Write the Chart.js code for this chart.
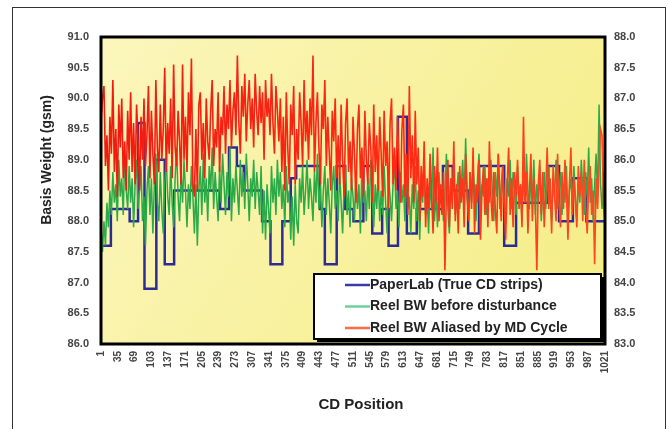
<!DOCTYPE html>
<html>
<head>
<meta charset="utf-8">
<script src="https://cdn.jsdelivr.net/npm/chart.js@4.4.1/dist/chart.umd.min.js"></script>
<style>
  html, body { margin: 0; padding: 0; background: #fff; }
  #wrap { width: 669px; height: 429px; }
</style>
</head>
<body>
<div id="wrap"><canvas id="bwChart" width="669" height="429"></canvas></div>
<script>
// CD positions shown on the x axis
const xTicks = [1, 35, 69, 103, 137, 171, 205, 239, 273, 307, 341, 375, 409, 443, 477, 511,
  545, 579, 613, 647, 681, 715, 749, 783, 817, 851, 885, 919, 953, 987, 1021];

// PaperLab strips: CD position where each strip starts, and its weight (gsm)
const stripStarts = [1, 21, 59, 76, 89, 113, 130, 149, 242, 260, 276, 290, 327, 344, 368, 385,
  396, 444, 454, 478, 495, 512, 532, 550, 570, 583, 602, 620, 640, 693, 713, 744,
  766, 817, 841, 906, 928, 956, 983, 1021];
const stripValues = [87.6, 88.2, 88.0, 89.6, 86.9, 89.0, 87.3, 88.5, 88.2, 89.2, 88.9, 88.5, 88.0, 87.3, 88.0, 88.7,
  88.9, 88.2, 87.3, 88.9, 88.2, 88.0, 88.9, 87.8, 88.2, 87.6, 89.7, 87.8, 88.2, 88.9, 88.5, 87.8,
  88.9, 87.6, 88.3, 88.9, 88.0, 88.7, 88.0, 88.0];

// reel scans, read every 3 CD positions
const sampleStep = 3;
const reelBefore = [
  87.9, 87.5, 88.0, 87.6, 88.3, 87.9, 88.5, 88.1, 88.8, 88.3,
  88.6, 88.0, 89.0, 88.4, 88.7, 88.1, 89.1, 88.5, 88.2, 88.9,
  88.3, 88.7, 87.9, 88.6, 89.0, 88.2, 88.5, 88.9, 88.0, 88.4,
  87.6, 88.5, 88.9, 88.1, 88.7, 87.8, 88.6, 89.1, 88.3, 88.0,
  88.8, 88.2, 87.8, 88.6, 89.0, 88.4, 88.1, 88.9, 88.3, 87.9,
  88.7, 89.2, 88.4, 88.0, 88.8, 88.3, 89.0, 88.5, 87.9, 88.6,
  88.2, 88.9, 88.4, 87.8, 88.6, 87.6, 88.5, 88.9, 88.1, 89.1,
  88.3, 88.7, 88.0, 88.9, 88.5, 89.2, 88.2, 88.8, 88.4, 88.0,
  88.9, 88.3, 89.1, 88.6, 88.1, 88.8, 88.4, 89.2, 88.0, 88.7,
  88.3, 88.9, 88.5, 88.1, 89.0, 88.4, 88.8, 88.2, 89.1, 88.6,
  88.0, 88.7, 88.4, 89.0, 88.2, 88.8, 88.5, 88.1, 88.9, 87.8,
  88.5, 87.7, 88.6, 88.2, 87.8, 88.9, 88.3, 88.7, 88.1, 89.0,
  88.4, 88.8, 88.2, 88.6, 87.9, 88.9, 88.3, 88.5, 87.7, 88.4,
  87.6, 88.6, 88.0, 87.8, 88.7, 88.3, 88.9, 88.1, 88.5, 89.0,
  88.2, 88.7, 88.4, 88.0, 88.8, 88.3, 89.1, 88.2, 88.6, 87.9,
  88.5, 88.9, 88.1, 88.7, 88.3, 87.8, 88.6, 88.9, 88.2, 88.5,
  88.0, 88.8, 88.3, 87.8, 88.6, 88.9, 88.1, 88.5, 87.9, 88.7,
  88.4, 88.0, 88.8, 88.2, 88.6, 87.8, 88.9, 88.3, 88.5, 88.0,
  88.7, 88.2, 89.0, 88.4, 87.9, 88.6, 88.2, 88.8, 88.0, 88.5,
  88.1, 88.9, 88.3, 87.8, 88.7, 88.4, 88.0, 88.6, 89.0, 88.2,
  88.5, 87.9, 88.8, 88.3, 88.6, 88.0, 88.9, 88.2, 88.4, 87.8,
  88.6, 88.2, 88.9, 88.0, 88.5, 87.7, 88.6, 88.3, 89.0, 88.1,
  88.4, 87.8, 88.7, 88.2, 89.2, 88.0, 88.5, 87.9, 88.8, 88.3,
  88.6, 88.0, 88.4, 89.1, 88.2, 87.8, 88.7, 88.3, 88.9, 88.1,
  88.5, 88.8, 88.2, 88.6, 89.0, 88.3, 89.35, 88.4, 88.1, 88.8,
  88.3, 88.9, 88.5, 88.0, 88.7, 89.1, 88.2, 88.6, 88.4, 88.9,
  88.1, 88.7, 88.3, 89.0, 88.5, 88.0, 88.8, 88.4, 89.1, 88.2,
  88.6, 88.9, 88.3, 88.0, 88.7, 88.4, 89.0, 88.2, 88.8, 88.5,
  88.1, 88.9, 88.4, 88.6, 88.0, 88.8, 88.3, 89.1, 88.5, 88.2,
  88.7, 88.4, 89.0, 88.1, 88.6, 88.3, 88.9, 88.0, 88.5, 88.8,
  88.2, 88.6, 88.9, 88.3, 88.0, 88.7, 88.4, 89.0, 88.2, 88.5,
  88.8, 88.1, 88.6, 88.3, 88.9, 88.0, 88.5, 88.7, 88.2, 88.9,
  88.4, 88.0, 88.7, 88.3, 89.0, 88.5, 88.1, 88.8, 88.4, 89.2,
  88.3, 88.7, 88.0, 88.6, 89.1, 88.4, 89.9, 88.6, 88.2, 88.8,
  88.4
];
const reelAliased = [
  89.6, 90.0, 90.2, 88.9, 89.4, 88.5, 89.7, 89.1, 90.3, 88.8,
  89.5, 88.4, 89.9, 89.2, 90.0, 88.7, 89.3, 88.5, 89.8, 89.0,
  90.1, 88.8, 89.6, 88.6, 89.9, 89.3, 88.5, 89.7, 89.0, 90.0,
  88.9, 89.4, 90.2, 88.7, 89.8, 89.1, 88.6, 90.3, 89.2, 88.8,
  89.9, 89.0, 89.5, 90.5, 88.8, 89.6, 89.1, 90.0, 88.7, 90.55,
  89.2, 88.9, 89.8, 89.3, 88.6, 90.55, 89.0, 89.7, 88.8, 90.1,
  89.4, 90.65, 88.6, 88.4, 89.5, 88.5, 89.9, 90.1, 89.0, 89.6,
  88.7, 90.0, 89.3, 89.0, 89.8, 90.3, 88.9, 89.5, 89.2, 90.1,
  88.8, 89.7, 89.4, 90.2, 89.1, 89.9, 89.5, 90.3, 89.2, 89.8,
  90.1, 89.4, 90.7, 89.6, 89.1, 90.2, 89.7, 90.4, 89.3, 89.9,
  90.3, 89.5, 90.0, 89.2, 90.4, 89.8, 89.4, 90.2, 89.6, 90.1,
  89.0, 90.3, 89.7, 90.0, 89.4, 90.4, 89.6, 89.1, 90.2, 89.8,
  89.3, 90.0, 88.8, 89.7, 88.5, 90.1, 89.2, 88.6, 89.9, 89.4,
  90.2, 88.6, 89.5, 89.0, 90.1, 89.6, 88.9, 90.3, 89.3, 89.8,
  89.0, 90.0, 89.4, 90.7, 88.8, 89.6, 90.1, 89.2, 88.6, 89.9,
  89.5, 90.3, 88.9, 89.7, 89.1, 88.5, 89.8, 89.3, 90.0, 88.7,
  89.4, 88.6, 89.9, 89.0, 88.4, 89.6, 90.0, 88.8, 89.3, 88.5,
  89.7, 89.1, 88.3, 89.5, 89.9, 88.7, 89.2, 88.4, 89.8, 89.0,
  88.6, 89.6, 89.2, 88.3, 89.9, 88.8, 89.4, 88.5, 89.7, 89.1,
  88.4, 89.8, 88.9, 89.3, 88.2, 89.6, 90.0, 88.6, 89.2, 88.5,
  89.7, 88.9, 88.3, 89.5, 89.9, 88.4, 89.1, 88.1, 90.2, 88.7,
  89.4, 88.3, 89.8, 88.6, 89.2, 88.0, 88.9, 88.4, 89.3, 87.9,
  88.7, 88.2, 89.1, 88.5, 87.8, 88.9, 88.3, 89.2, 88.0, 88.6,
  88.1, 88.8, 87.2, 88.5, 89.0, 87.9, 88.7, 88.2, 89.3, 88.0,
  88.6, 87.8, 88.9, 88.3, 88.7, 87.9, 89.1, 88.4, 88.0, 88.8,
  88.2, 89.2, 87.8, 88.6, 88.3, 89.0, 87.7, 88.5, 88.9, 88.1,
  88.7, 87.9, 89.3, 88.4, 88.0, 88.8, 88.2, 87.8, 89.1, 88.5,
  88.0, 88.9, 88.3, 87.7, 88.6, 89.2, 88.1, 88.7, 87.9, 88.8,
  88.4, 89.0, 88.2, 88.6, 87.9, 89.7, 88.3, 88.8, 87.8, 88.5,
  89.1, 88.0, 88.7, 88.3, 87.2, 88.6, 89.0, 88.1, 88.8, 87.9,
  88.5, 89.2, 88.2, 88.7, 87.8, 88.9, 88.4, 88.0, 89.1, 88.3,
  87.9, 88.8, 88.2, 89.0, 88.5, 87.7, 88.6, 89.2, 88.1, 88.7,
  88.3, 87.9, 88.9, 88.4, 88.8, 88.0, 89.0, 88.2, 87.8, 88.6,
  88.9, 88.1, 88.5, 87.3, 88.7, 88.2, 88.9, 89.5, 89.4, 88.3,
  88.0
];

const FONT = '"Liberation Sans", Arial, sans-serif';
Chart.defaults.font.family = FONT;

const toPoints = vals => vals.map((v, i) => ({ x: 1 + i * sampleStep, y: v }));

// red trace turns a little more orange towards the right side
const aliasedColor = context => {
  const { chart } = context;
  const a = chart.chartArea;
  if (!a) return '#ff2a12';
  const g = chart.ctx.createLinearGradient(a.left, 0, a.right, 0);
  g.addColorStop(0, '#f01a10');
  g.addColorStop(0.6, '#ff2a14');
  g.addColorStop(1, '#ff4a22');
  return g;
};

// white page, outer frame and the yellow plot area
const backdrop = {
  id: 'backdrop',
  beforeDraw(chart) {
    const { ctx, chartArea: a } = chart;
    ctx.save();
    ctx.fillStyle = '#fff';
    ctx.fillRect(0, 0, chart.width, chart.height);
    ctx.strokeStyle = '#333';
    ctx.lineWidth = 1;
    ctx.strokeRect(12.5, 7.5, 653, 440);
    const g = ctx.createLinearGradient(a.left, a.top, a.right, a.bottom);
    g.addColorStop(0, '#fbf6bc');
    g.addColorStop(1, '#f5ed84');
    ctx.fillStyle = g;
    ctx.fillRect(a.left, a.top, a.right - a.left, a.bottom - a.top);
    ctx.restore();
  },
  afterDatasetsDraw(chart) {
    const { ctx, chartArea: a } = chart;
    ctx.save();
    ctx.strokeStyle = '#000';
    ctx.lineWidth = 3;
    ctx.strokeRect(a.left, a.top, a.right - a.left, a.bottom - a.top);

    // legend box inside the plot
    const bx = 314, by = 274, bw = 287, bh = 65;
    ctx.fillStyle = '#000';
    ctx.fillRect(bx + 3, by + 3, bw, bh);
    ctx.fillStyle = '#fff';
    ctx.fillRect(bx, by, bw, bh);
    ctx.lineWidth = 2;
    ctx.strokeRect(bx, by, bw, bh);
    ctx.font = 'bold 14px ' + FONT;
    ctx.textBaseline = 'middle';
    ctx.textAlign = 'left';
    chart.data.datasets.forEach((ds, i) => {
      const y = by + 11 + i * 21.5;
      ctx.strokeStyle = ds.legendColor;
      ctx.lineWidth = 2.5;
      ctx.beginPath();
      ctx.moveTo(345, y);
      ctx.lineTo(370, y);
      ctx.stroke();
      ctx.fillStyle = '#222';
      ctx.fillText(ds.label, 370, y);
    });

    // axis titles
    ctx.fillStyle = '#222';
    ctx.font = 'bold 15px ' + FONT;
    ctx.textAlign = 'center';
    ctx.fillText('CD Position', 361, 405);
    ctx.translate(47, 160);
    ctx.rotate(-Math.PI / 2);
    ctx.font = 'bold 14px ' + FONT;
    ctx.fillText('Basis Weight (gsm)', 0, 0);
    ctx.restore();
  }
};

const ctx = document.getElementById('bwChart').getContext('2d');
const bwChart = new Chart(ctx, {
  type: 'line',
  data: {
    datasets: [{
      label: 'PaperLab (True CD strips)',
      data: stripStarts.map((p, i) => ({ x: p, y: stripValues[i] })),
      borderColor: '#2c2c96',
      legendColor: '#3a3aaa',
      borderWidth: 2.5,
      stepped: 'before',
      order: 2
    }, {
      label: 'Reel BW before disturbance',
      data: toPoints(reelBefore),
      borderColor: '#2caa48',
      legendColor: '#6fcf9a',
      borderWidth: 1.5,
      order: 1
    }, {
      label: 'Reel BW Aliased by MD Cycle',
      data: toPoints(reelAliased),
      borderColor: aliasedColor,
      legendColor: '#ff6a44',
      borderWidth: 1.6,
      order: 0
    }]
  },
  options: {
    responsive: false,
    animation: false,
    devicePixelRatio: 1,
    elements: { point: { radius: 0 }, line: { tension: 0 } },
    layout: { padding: { top: 37, left: 0, right: 0, bottom: 0 } },
    plugins: {
      legend: { display: false },
      tooltip: { enabled: false }
    },
    scales: {
      x: {
        type: 'linear',
        min: 1,
        max: 1021,
        afterBuildTicks: scale => { scale.ticks = xTicks.map(v => ({ value: v })); },
        afterFit: scale => { scale.height = 85; },
        ticks: {
          autoSkip: false,
          minRotation: 90,
          maxRotation: 90,
          padding: 7,
          color: '#444',
          font: { size: 10, weight: 'bold' },
          callback: v => String(v)
        },
        grid: { display: false, drawTicks: false },
        border: { display: false }
      },
      y: {
        position: 'left',
        min: 86,
        max: 91,
        afterFit: scale => { scale.width = 101; },
        ticks: {
          stepSize: 0.5,
          padding: 12,
          color: '#444',
          font: { size: 11, weight: 'bold' },
          callback: v => v.toFixed(1)
        },
        grid: { display: false, drawTicks: false },
        border: { display: false }
      },
      y2: {
        position: 'right',
        min: 83,
        max: 88,
        afterFit: scale => { scale.width = 64; },
        ticks: {
          stepSize: 0.5,
          padding: 9,
          color: '#444',
          font: { size: 11, weight: 'bold' },
          callback: v => v.toFixed(1)
        },
        grid: { display: false, drawTicks: false },
        border: { display: false }
      }
    }
  },
  plugins: [backdrop]
});
</script>
</body>
</html>
